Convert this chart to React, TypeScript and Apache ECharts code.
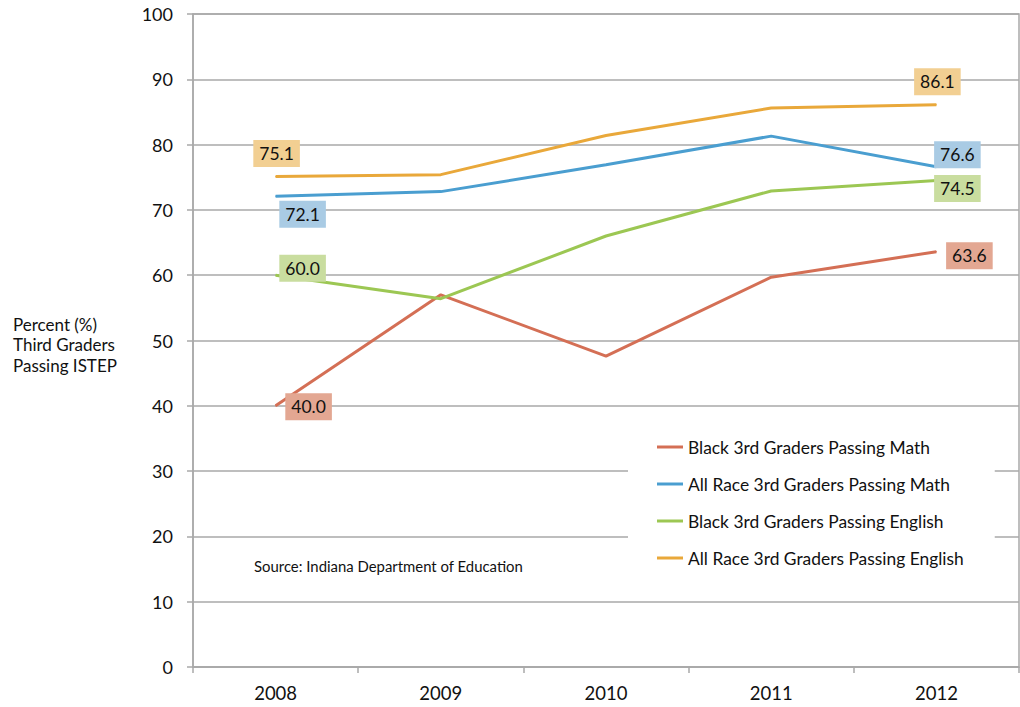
import React, { useEffect, useRef } from "react";
import * as echarts from "echarts";

const years = ["2008", "2009", "2010", "2011", "2012"];
const blackMath = [40.0, 57.0, 47.6, 59.7, 63.6];
const allMath = [72.1, 72.8, 76.9, 81.3, 76.6];
const blackEnglish = [60.0, 56.4, 66.0, 72.9, 74.5];
const allEnglish = [75.1, 75.4, 81.4, 85.6, 86.1];
const seriesNames = [
  "Black 3rd Graders Passing Math",
  "All Race 3rd Graders Passing Math",
  "Black 3rd Graders Passing English",
  "All Race 3rd Graders Passing English",
];
const lineColors = ["#D46F55", "#4A9ED0", "#9CC753", "#E9A83A"];
const labelBgs = ["#E3A792", "#A9CBE4", "#C9DD9F", "#F2CF92"];
// label offsets for first/last points [first, last]
const labelOffsets: number[][][] = [
  [[33, 1], [33, 4]],
  [[27, 18], [21, -12]],
  [[27, -7], [21, 8]],
  [[1, -23], [1, -23]],
];
const FONT = "Lato, 'Open Sans', sans-serif";

export default function App() {
  const ref = useRef<HTMLDivElement>(null);
  useEffect(() => {
    const chart = echarts.init(ref.current!, undefined, { renderer: "svg" });
    const datasets = [blackMath, allMath, blackEnglish, allEnglish];
    const series = datasets.map((arr, si) => ({
      name: seriesNames[si],
      type: "line",
      data: arr.map((v, i) => {
        const isEnd = i === 0 || i === arr.length - 1;
        if (!isEnd) return v;
        const off = labelOffsets[si][i === 0 ? 0 : 1];
        return {
          value: v,
          label: {
            show: true,
            position: "inside",
            offset: off,
            formatter: (p: any) => Number(p.value).toFixed(1),
            backgroundColor: labelBgs[si],
            padding: [5, 6, 4, 6],
            color: "#111",
            fontSize: 17.5,
            fontFamily: FONT,
          },
        };
      }),
      symbol: "circle",
      symbolSize: 1,
      showSymbol: true,
      itemStyle: { color: lineColors[si] },
      lineStyle: { color: lineColors[si], width: 3 },
      z: 3 + si,
    }));
    chart.setOption({
      animation: false,
      textStyle: { fontFamily: FONT },
      grid: {
        left: 193,
        right: 1,
        top: 14,
        bottom: 40,
        show: true,
        borderColor: "#a9a9a9",
        borderWidth: 1.5,
      },
      legend: {
        orient: "vertical",
        left: 628,
        top: 419,
        backgroundColor: "#ffffff",
        padding: [18, 31, 16, 29],
        itemWidth: 26,
        itemHeight: 3,
        itemGap: 17,
        icon: "rect",
        textStyle: { fontSize: 17.4, color: "#111", fontFamily: FONT, lineHeight: 20 },
        data: seriesNames,
      },
      xAxis: {
        type: "category",
        data: years,
        boundaryGap: true,
        axisLine: { lineStyle: { color: "#a9a9a9", width: 1.5 } },
        axisTick: { show: true, length: 6, lineStyle: { color: "#a9a9a9", width: 1.5 } },
        axisLabel: { fontSize: 18.5, color: "#111", margin: 16, fontFamily: FONT },
      },
      yAxis: {
        type: "value",
        min: 0,
        max: 100,
        interval: 10,
        axisLine: { show: true, lineStyle: { color: "#a9a9a9", width: 1.5 } },
        axisTick: { show: true, length: 6, lineStyle: { color: "#a9a9a9", width: 1.5 } },
        axisLabel: { fontSize: 18, color: "#111", margin: 20, fontFamily: FONT },
        splitLine: { lineStyle: { color: "#a9a9a9", width: 1.5 } },
      },
      graphic: [
        {
          type: "text",
          left: 13,
          top: 314,
          style: {
            text: "Percent (%)\nThird Graders\nPassing ISTEP",
            fontSize: 17,
            lineHeight: 20.5,
            fill: "#111",
            fontFamily: FONT,
          },
        },
        {
          type: "text",
          left: 254,
          top: 558,
          style: {
            text: "Source: Indiana Department of Education",
            fontSize: 14.9,
            fill: "#111",
            fontFamily: FONT,
          },
        },
      ],
      series,
    });
    return () => chart.dispose();
  }, []);
  return (
    <div
      ref={ref}
      style={{ position: "fixed", left: 0, top: 0, width: 1020, height: 707, background: "#fff" }}
    />
  );
}
